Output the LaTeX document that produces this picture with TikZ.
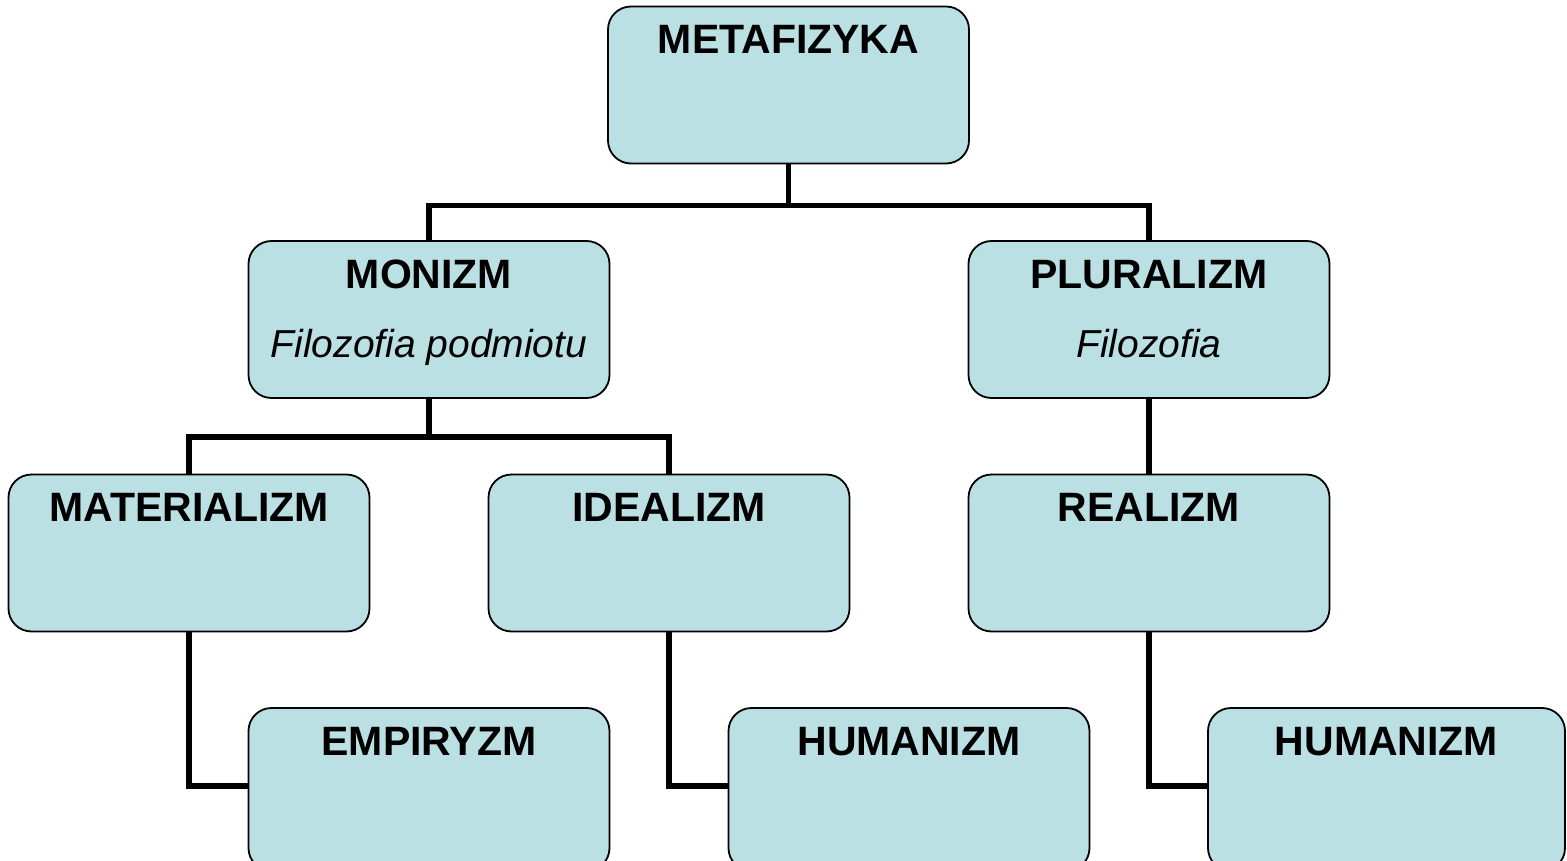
\documentclass[tikz,border=0pt]{standalone}
\usepackage{fontspec}
\setmainfont{Liberation Sans}
\definecolor{boxfill}{RGB}{186,224,227}
\tikzset{
  box/.style={draw=black, line width=1.8pt, fill=boxfill, rounded corners=23pt,
    minimum width=361pt, minimum height=157pt, inner sep=0pt, outer sep=0pt},
  lowbox/.style={box, minimum height=163pt},
  ttl/.style={anchor=base, yshift=-47pt, inner sep=0pt,
    font=\bfseries\fontsize{41}{49}\selectfont},
  sub/.style={anchor=base, yshift=-116pt, inner sep=0pt,
    font=\itshape\fontsize{39}{47}\selectfont},
  conn/.style={line width=5.5pt, line cap=butt, line join=miter}
}
\begin{document}
\begin{tikzpicture}[x=1pt,y=-1pt]
\useasboundingbox (0,0) rectangle (1567,861);
\clip (0,0) rectangle (1567,861);
\node[box] (meta) at (788.5,85) {};
\node[ttl] (metat) at (meta.north) {METAFIZYKA};
\node[box] (moni) at (429,319.5) {};
\node[ttl] (monit) at (moni.north) {MONIZM};
\node[sub] (monis) at (moni.north) {Filozofia podmiotu};
\node[box] (plur) at (1149,319.5) {};
\node[ttl] (plurt) at (plur.north) {PLURALIZM};
\node[sub] (plurs) at (plur.north) {Filozofia};
\node[box] (mate) at (189,553) {};
\node[ttl] (matet) at (mate.north) {MATERIALIZM};
\node[box] (idea) at (669,553) {};
\node[ttl] (ideat) at (idea.north) {IDEALIZM};
\node[box] (real) at (1149,553) {};
\node[ttl] (realt) at (real.north) {REALIZM};
\node[lowbox] (empi) at (429,789.5) {};
\node[ttl] (empit) at (empi.north) {EMPIRYZM};
\node[lowbox] (humi) at (909,789.5) {};
\node[ttl] (humit) at (humi.north) {HUMANIZM};
\node[lowbox, minimum width=357pt] (humr) at (1386.5,789.5) {};
\node[ttl] (humrt) at (humr.north) {HUMANIZM};
\coordinate (ea) at ([yshift=3.5pt]empi.west);
\coordinate (ha) at ([yshift=3.5pt]humi.west);
\coordinate (ra) at ([yshift=3.5pt]humr.west);
\draw[conn] (meta.south) -- ++(0,42) coordinate (j1) -| (moni.north);
\draw[conn] (j1) -| (plur.north);
\draw[conn] (moni.south) -- ++(0,39) coordinate (j2) -| (mate.north);
\draw[conn] (j2) -| (idea.north);
\draw[conn] (plur.south) -- (real.north);
\draw[conn] (mate.south) |- (ea);
\draw[conn] (idea.south) |- (ha);
\draw[conn] (real.south) |- (ra);
\end{tikzpicture}
\end{document}
